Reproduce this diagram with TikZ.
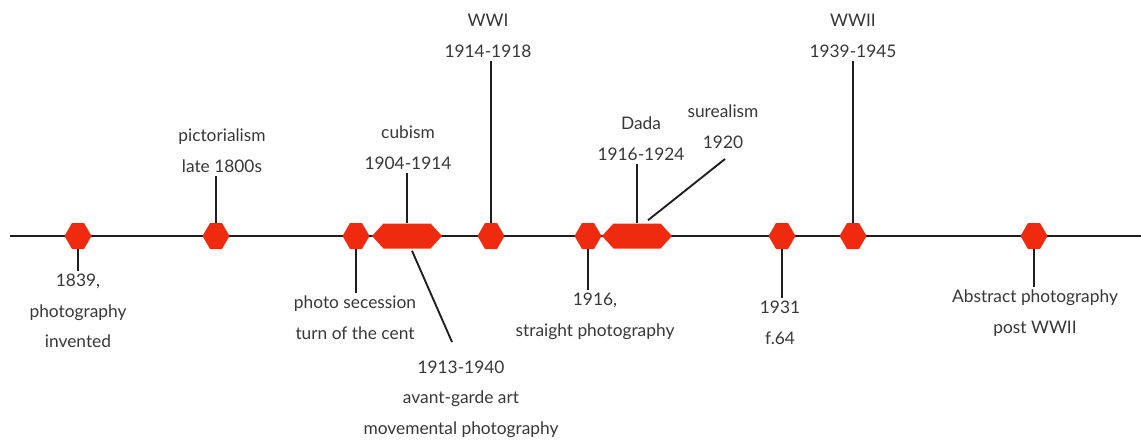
\documentclass[tikz,border=0pt]{standalone}
\usepackage{fontspec}
\setmainfont{Lato}
\usetikzlibrary{shapes.symbols,calc}
\definecolor{hexred}{RGB}{240,42,14}
\definecolor{txt}{RGB}{55,55,55}
\definecolor{ln}{RGB}{30,30,30}
\begin{document}
\begin{tikzpicture}[x=0.75pt,y=-0.75pt,
  hex/.style={signal, signal to=east and west, signal pointer angle=120,
    fill=hexred, draw=none, inner sep=0pt, minimum width=20.25pt, minimum height=19.5pt},
  longhex/.style={signal, signal to=east and west, signal pointer angle=95,
    fill=hexred, draw=none, inner sep=0pt, minimum width=52.5pt, minimum height=18.75pt},
  lbl/.style={align=center, font=\fontsize{13}{23}\selectfont, text=txt, inner sep=2pt},
  stem/.style={draw=ln, line width=1.4pt},
  mainline/.style={draw=ln, line width=1.6pt}]
\useasboundingbox (0,0) rectangle (1141,443);
\coordinate (L) at (10,236);
\coordinate (R) at (1141,236);
\draw[mainline] (L) -- (R);
% markers
\node[hex] (h1) at (78,236) {};
\node[hex] (h2) at (216,236) {};
\node[hex] (h3) at (356,236) {};
\node[longhex] (h4) at (407,236) {};
\node[hex] (h5) at (491,236) {};
\node[hex] (h6) at (588,236) {};
\node[longhex] (h7) at (637,236) {};
\node[hex] (h8) at (782,236) {};
\node[hex] (h9) at (853,236) {};
\node[hex] (h10) at (1034,236) {};
% labels
\node[lbl] (t1) at (78,311) {1839,\\photography\\invented};
\node[lbl] (t2) at (222,151) {pictorialism\\late 1800s};
\node[lbl] (t3) at (355,318) {photo secession\\turn of the cent};
\node[lbl] (t4) at (408,148) {cubism\\1904-1914};
\node[lbl] (t5) at (461,399) {1913-1940\\avant-garde art\\movemental photography};
\node[lbl] (t6) at (488,36) {WWI\\1914-1918};
\node[lbl] (t7) at (595,316) {1916,\\straight photography};
\node[lbl] (t8) at (641,139) {Dada\\1916-1924};
\node[lbl] (t9) at (723,127) {surealism\\1920};
\node[lbl] (t10) at (780,323) {1931\\f.64};
\node[lbl] (t11) at (853,36) {WWII\\1939-1945};
\node[lbl] (t12) at (1035,313) {Abstract photography\\post WWII};
% connectors
\draw[stem] (h1.south) -- (h1.south |- t1.north);
\draw[stem] (h2.north) -- (h2.north |- t2.south);
\draw[stem] (h3.south) -- (h3.south |- t3.north);
\draw[stem] (h4.north) -- (h4.north |- t4.south);
\coordinate (d1) at (452,342);
\draw[stem] ($(h4.south)+(5,2)$) -- (d1);
\draw[stem] (h5.north) -- (h5.north |- t6.south);
\draw[stem] (h6.south) -- (h6.south |- t7.north);
\draw[stem] (h7.north) -- (h7.north |- t8.south);
\coordinate (d2) at (725,159);
\draw[stem] (d2) -- ($(h7.north)+(11,-3)$);
\draw[stem] (h8.south) -- (h8.south |- t10.north);
\draw[stem] (h9.north) -- (h9.north |- t11.south);
\draw[stem] (h10.south) -- (h10.south |- t12.north);
\end{tikzpicture}
\end{document}
